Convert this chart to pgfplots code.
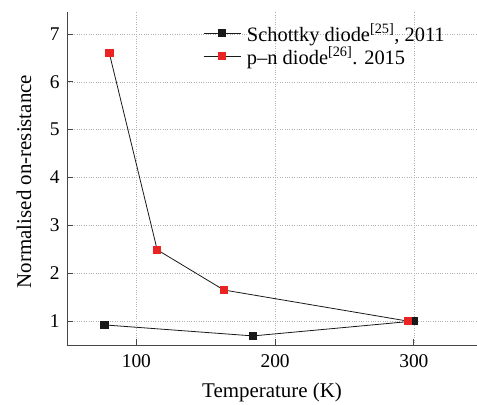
\documentclass[border=0pt]{standalone}
\usepackage{pgfplots}
\pgfplotsset{compat=1.18}
\usepackage{fontspec}
\setmainfont{Liberation Serif}
\definecolor{myred}{RGB}{235,35,35}
\definecolor{axgray}{RGB}{70,70,70}
\begin{document}
\begin{tikzpicture}[x=1bp,y=1bp]
\path[use as bounding box] (-67,-59) rectangle (410,345);
\begin{axis}[
  at={(0,0)}, anchor=origin,
  scale only axis,
  width=410bp, height=333bp,
  xmin=50, xmax=345.5, ymin=0.5, ymax=7.46,
  axis x line*=bottom, axis y line*=left,
  axis line style={axgray, line width=0.9pt, -},
  xtick={100,200,300}, ytick={1,2,3,4,5,6,7},
  tick align=inside, major tick length=6bp,
  tick style={axgray, line width=0.9pt},
  grid=major,
  grid style={gray!60, dotted, line width=0.6pt},
  /pgf/number format/assume math mode=true,
  tick label style={font=\fontsize{19.5}{21}\selectfont},
  label style={font=\fontsize{21}{23}\selectfont},
  xlabel={Temperature (K)},
  ylabel={Normalised on-resistance},
  xlabel style={at={(axis description cs:0.5,0)}, anchor=center, yshift=-47bp},
  ylabel style={at={(axis description cs:0,0.5)}, anchor=center, yshift=43bp, xshift=-3bp},
  xticklabel style={yshift=-6bp},
  yticklabel style={xshift=-4bp},
  legend style={draw=none, fill=none, inner sep=0pt, at={(axis cs:148,7.26)}, anchor=north west,
    font=\fontsize{20.5}{22}\selectfont, row sep=0bp,
    /tikz/every odd column/.append style={column sep=4bp}},
  legend cell align=left,
  legend image code/.code={\draw[#1] (0bp,0bp) -- (37bp,0bp); \draw[#1,mark repeat=2,mark phase=2] plot coordinates {(0bp,0bp) (18.5bp,0bp) (37bp,0bp)};},
]
\addplot[black!90, line width=0.8pt, mark=square*, mark size=3.6bp, mark options={fill=black!90, draw=black!90}]
  coordinates {(77,0.92) (184,0.69) (300,1.0)};
\addlegendentry{Schottky diode\textsuperscript{[25]}, 2011}
\addplot[black!90, line width=0.8pt, mark=square*, mark size=3.6bp, mark options={fill=myred, draw=myred}]
  coordinates {(80.5,6.6) (115,2.49) (163,1.65) (295.5,1.0)};
\addlegendentry{p--n diode\textsuperscript{[26]}. 2015}
\end{axis}
\end{tikzpicture}
\end{document}
